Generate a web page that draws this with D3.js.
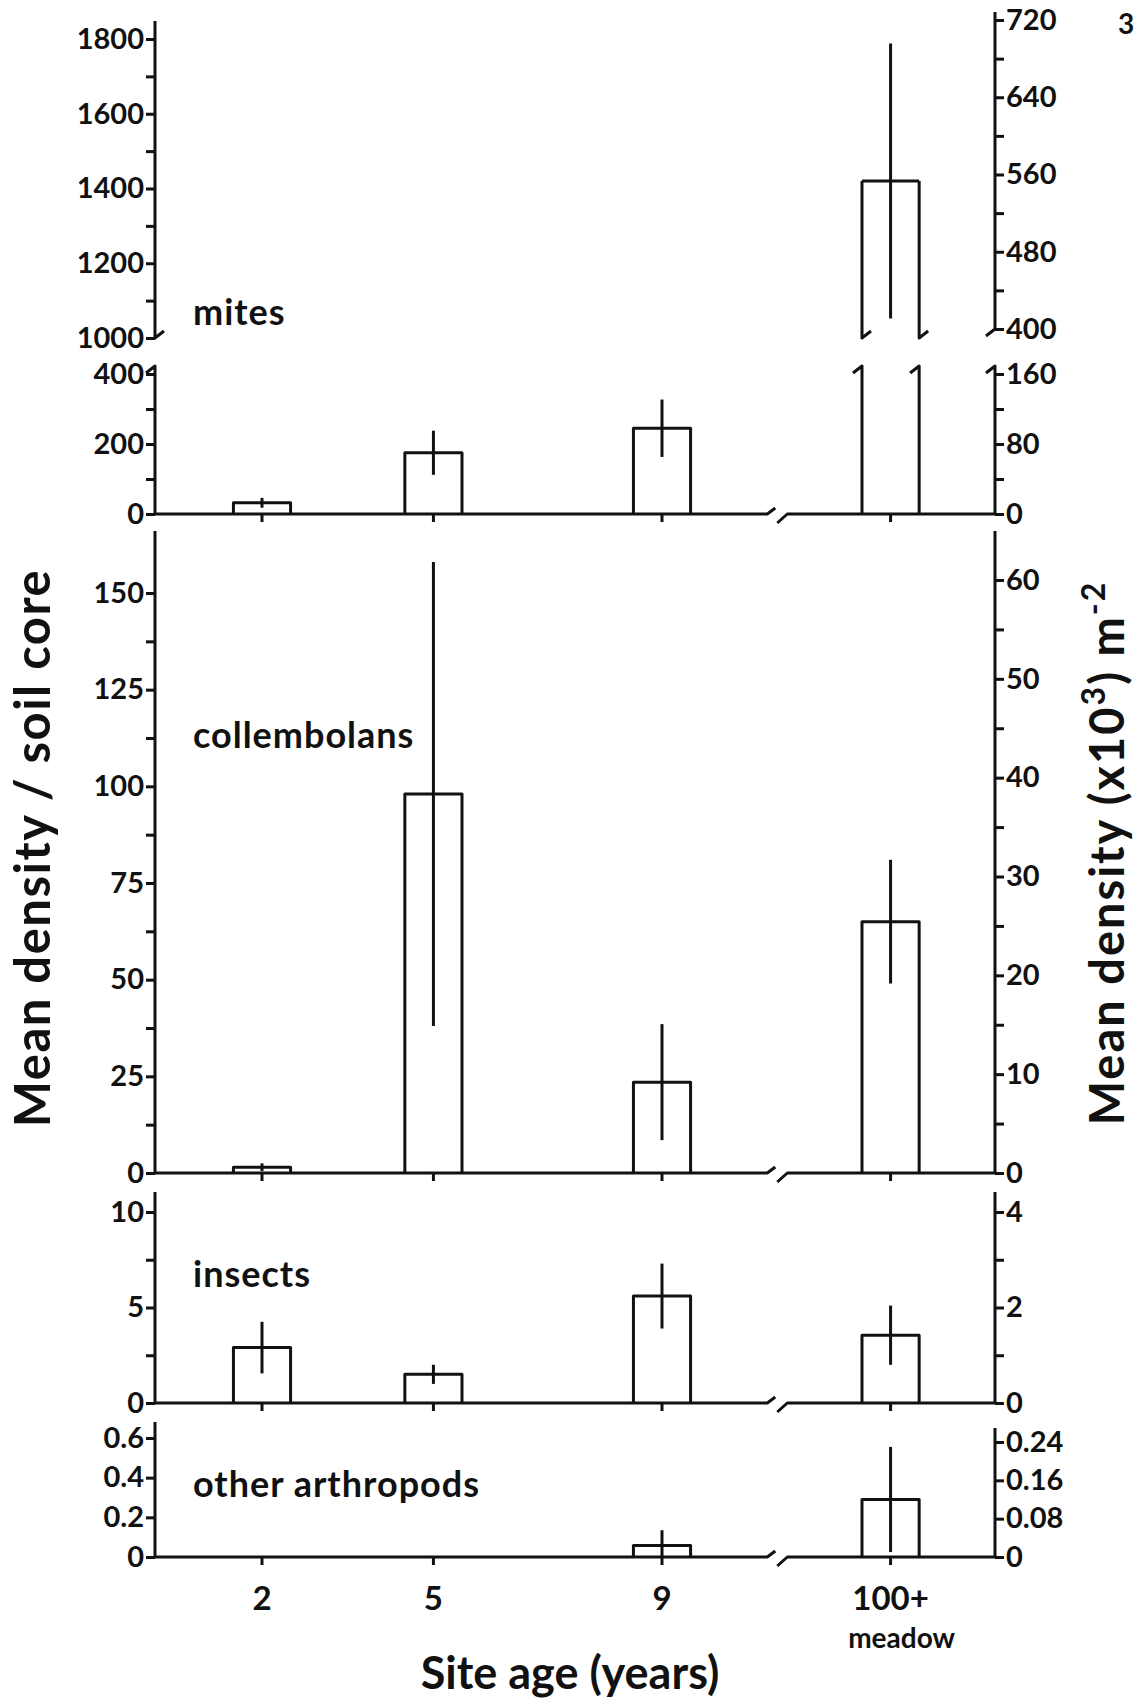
<!DOCTYPE html>
<html>
<head>
<meta charset="utf-8">
<script src="https://cdn.jsdelivr.net/npm/d3@7"></script>
<style>
  body { margin: 0; background: #fff; }
  svg text { font-family: Lato, 'DejaVu Sans', sans-serif; fill: #111; }
</style>
</head>
<body>
<div id="chart"></div>
<script>
// site ages on the x axis; the meadow is drawn after the axis break
const siteLabels = ['2', '5', '9', '100+']
const sitePos = [2, 5, 9, 13]
const breakPos = 11

// mean density per soil core and the error bar half-length
const mitesMean = [32, 175, 245, 1420]
const mitesErr = [14, 63, 82, 368]
const collMean = [1.5, 98, 23.5, 65]
const collErr = [1, 60, 15, 16]
const insectsMean = [2.9, 1.5, 5.6, 3.55]
const insectsErr = [1.35, 0.5, 1.7, 1.55]
const otherMean = [0, 0, 0.058, 0.29]
const otherErr = [0, 0, 0.077, 0.265]

// tick values, left axis (per core) and right axis (x10^3 per m2)
const mitesHiTicks = [1000, 1200, 1400, 1600, 1800]
const mitesHiMinor = [1100, 1300, 1500, 1700]
const mitesHiTicksR = [400, 480, 560, 640, 720]
const mitesHiMinorR = [440, 520, 600, 680]
const mitesLoTicks = [0, 200, 400]
const mitesLoMinor = [100, 300]
const mitesLoTicksR = [0, 80, 160]
const mitesLoMinorR = [40, 120]
const collTicks = [0, 25, 50, 75, 100, 125, 150]
const collMinor = [12.5, 37.5, 62.5, 87.5, 112.5, 137.5]
const collTicksR = [0, 10, 20, 30, 40, 50, 60]
const collMinorR = [5, 15, 25, 35, 45, 55]
const insectsTicks = [0, 5, 10]
const insectsMinor = [2.5, 7.5]
const insectsTicksR = [0, 2, 4]
const insectsMinorR = [1, 3]
const otherTicks = [0, 0.2, 0.4, 0.6]
const otherTicksR = [0, 0.08, 0.16, 0.24]

const width = 1138
const height = 1699
const leftX = 155
const rightX = 995
const ink = '#111'
const sw = 3

const svg = d3.select('#chart')
  .append('svg')
  .attr('width', width)
  .attr('height', height)

svg.append('rect').attr('width', width).attr('height', height).attr('fill', '#fff')

const x = d3.scaleLinear().domain([2, 9]).range([262, 662])
const barW = x(3) - x(2)

const panels = [
  {
    name: 'mitesLo', mean: mitesMean, err: mitesErr,
    y: d3.scaleLinear().domain([0, 400]).range([514, 374]),
    yR: d3.scaleLinear().domain([0, 160]).range([514, 374]),
    ticks: mitesLoTicks, minor: mitesLoMinor, ticksR: mitesLoTicksR, minorR: mitesLoMinorR,
    top: 366, topR: 366, hook: true
  },
  {
    name: 'coll', mean: collMean, err: collErr, label: 'collembolans', labelY: 748,
    y: d3.scaleLinear().domain([0, 150]).range([1173, 593]),
    yR: d3.scaleLinear().domain([0, 60]).range([1173, 580]),
    ticks: collTicks, minor: collMinor, ticksR: collTicksR, minorR: collMinorR,
    top: 531, topR: 531
  },
  {
    name: 'insects', mean: insectsMean, err: insectsErr, label: 'insects', labelY: 1287,
    y: d3.scaleLinear().domain([0, 10]).range([1403, 1212]),
    yR: d3.scaleLinear().domain([0, 4]).range([1403, 1212]),
    ticks: insectsTicks, minor: insectsMinor, ticksR: insectsTicksR, minorR: insectsMinorR,
    top: 1192, topR: 1192
  },
  {
    name: 'other', mean: otherMean, err: otherErr, label: 'other arthropods', labelY: 1497,
    y: d3.scaleLinear().domain([0, 0.6]).range([1557, 1438]),
    yR: d3.scaleLinear().domain([0, 0.24]).range([1557, 1442]),
    ticks: otherTicks, minor: [], ticksR: otherTicksR, minorR: [],
    top: 1422, topR: 1428
  }
]

// upper part of the broken mites panel
const yHi = d3.scaleLinear().domain([1000, 1800]).range([338, 39])
const yHiR = d3.scaleLinear().domain([400, 720]).range([329, 20])

function yAxis(scale, side, major, minor, x0) {
  const axis = (side === 'left' ? d3.axisLeft(scale) : d3.axisRight(scale))
    .tickValues(major.concat(minor))
    .tickSize(9)
    .tickSizeOuter(0)
    .tickPadding(2)
    .tickFormat(d => (major.includes(d) ? String(d) : ''))
  const g = svg.append('g').attr('transform', `translate(${x0},0)`).call(axis)
  g.select('.domain').remove()
  g.attr('font-size', 29).attr('font-family', null).attr('font-weight', 700)
  g.selectAll('line').attr('stroke', ink).attr('stroke-width', sw)
  g.selectAll('text').attr('fill', ink)
  return g
}

function line(d) {
  svg.append('path')
    .attr('d', d)
    .attr('fill', 'none')
    .attr('stroke', ink)
    .attr('stroke-width', sw)
    .attr('stroke-linejoin', 'round')
}

// ---- upper mites panel (1000 - 1800)
yAxis(yHi, 'left', mitesHiTicks, mitesHiMinor, leftX)
yAxis(yHiR, 'right', mitesHiTicksR, mitesHiMinorR, rightX)
line(`M${leftX},21V${yHi(1000)}l9,-7`)
line(`M${rightX},12V${yHiR(400)}l-9,7`)

svg.append('text')
  .attr('x', 193).attr('y', 325)
  .attr('font-size', 36).attr('font-weight', 700)
  .attr('letter-spacing', 1)
  .text('mites')

// ---- lower panels
panels.forEach(p => {
  const y0 = p.y(0)
  yAxis(p.y, 'left', p.ticks, p.minor, leftX)
  yAxis(p.yR, 'right', p.ticksR, p.minorR, rightX)

  if (p.hook) {
    line(`M${leftX - 9},${p.top + 7}L${leftX},${p.top}V${y0}`)
    line(`M${rightX - 9},${p.topR + 7}L${rightX},${p.topR}V${y0}`)
  } else {
    line(`M${leftX},${p.top}V${y0}`)
    line(`M${rightX},${p.topR}V${y0}`)
  }

  // broken x axis baseline
  const bx = x(breakPos)
  line(`M${leftX},${y0}H${bx - 9}L${bx - 1},${y0 - 6}`)
  line(`M${bx + 1},${y0 + 9}L${bx + 11},${y0}H${rightX}`)

  sitePos.forEach(s => line(`M${x(s)},${y0}v8`))

  p.mean.forEach((v, i) => {
    if (v <= 0) return
    const cx = x(sitePos[i])
    const x0 = cx - barW / 2
    const x1 = cx + barW / 2
    const lo = Math.max(0, v - p.err[i])
    const hi = v + p.err[i]
    if (p.hook && v > p.y.domain()[1]) {
      // bar runs through the scale break into the upper panel
      ;[x0, x1].forEach(xx => {
        line(`M${xx - 9},${p.top + 7}L${xx},${p.top}V${y0}`)
        line(`M${xx},${yHi(v)}V${yHi(1000)}l9,-7`)
      })
      line(`M${x0},${yHi(v)}H${x1}`)
      line(`M${cx},${yHi(Math.max(lo, 1050))}V${yHi(hi)}`)
    } else {
      line(`M${x0},${y0}V${p.y(v)}H${x1}V${y0}`)
      line(`M${cx},${p.y(lo)}V${p.y(hi)}`)
    }
  })

  if (p.label) {
    svg.append('text')
      .attr('x', 193).attr('y', p.labelY)
      .attr('font-size', 36).attr('font-weight', 700)
      .attr('letter-spacing', 1)
      .text(p.label)
  }
})

// ---- x labels
svg.selectAll('.site-label')
  .data(siteLabels)
  .enter()
  .append('text')
  .attr('class', 'site-label')
  .attr('x', (d, i) => x(sitePos[i]))
  .attr('y', 1610)
  .attr('text-anchor', 'middle')
  .attr('font-size', 33)
  .attr('font-weight', 700)
  .text(d => d)

svg.append('text')
  .attr('x', x(13) + 11).attr('y', 1648)
  .attr('text-anchor', 'middle')
  .attr('font-size', 28)
  .attr('font-weight', 700)
  .text('meadow')

svg.append('text')
  .attr('x', 570).attr('y', 1689)
  .attr('text-anchor', 'middle')
  .attr('font-size', 45)
  .attr('font-weight', 700)
  .text('Site age (years)')

svg.append('text')
  .attr('transform', 'translate(50,848) rotate(-90)')
  .attr('text-anchor', 'middle')
  .attr('font-size', 49)
  .attr('font-weight', 700)
  .attr('letter-spacing', 1.5)
  .text('Mean density / soil core')

const rt = svg.append('text')
  .attr('transform', 'translate(1124,853) rotate(-90)')
  .attr('text-anchor', 'middle')
  .attr('font-size', 47)
  .attr('font-weight', 700)
  .attr('letter-spacing', 2)
rt.append('tspan').text('Mean density (x10')
rt.append('tspan').attr('baseline-shift', 'super').attr('font-size', 32).text('3')
rt.append('tspan').text(') m')
rt.append('tspan').attr('baseline-shift', 'super').attr('font-size', 32).text('-2')

svg.append('text')
  .attr('x', 1118).attr('y', 34)
  .attr('font-size', 28)
  .attr('font-weight', 700)
  .text('3')
</script>
</body>
</html>
